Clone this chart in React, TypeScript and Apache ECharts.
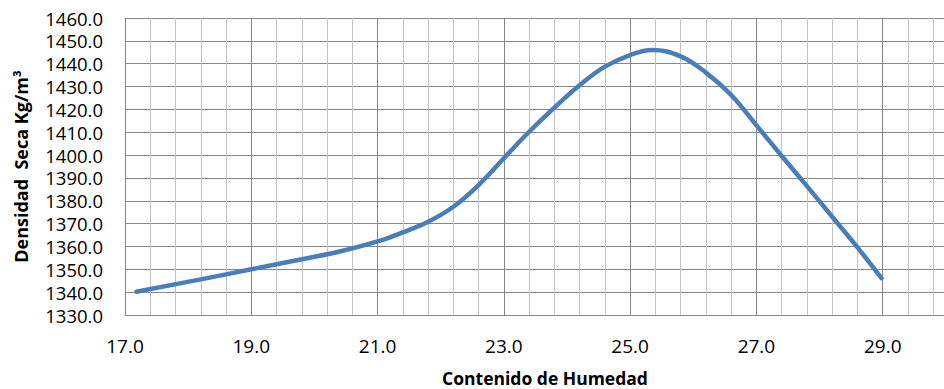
import React, { useEffect, useRef } from "react";
import * as echarts from "echarts";

// Contenido de Humedad (%)
const humedad = [17.18, 18.2, 19.0, 19.8, 20.4, 21.0, 21.4, 21.8, 22.2, 22.6, 23.0, 23.4, 23.8, 24.2, 24.6, 25.0, 25.35, 25.8, 26.2, 26.6, 27.0, 27.4, 27.8, 28.2, 28.6, 28.98];
// Densidad Seca (Kg/m3)
const densidad = [1340.2, 1345.6, 1350.0, 1354.4, 1357.8, 1362.2, 1366.2, 1370.8, 1377.4, 1386.9, 1398.6, 1410.2, 1420.8, 1430.6, 1438.7, 1443.8, 1446.0, 1443.2, 1436.1, 1426.3, 1413.0, 1399.6, 1386.4, 1373.0, 1359.6, 1346.1];

const xTitle = "Contenido de Humedad";
const yTitle = "Densidad  Seca Kg/m³";

const X_MIN = 17;
const X_MAX = 31;
const X_STEP = 2;
const Y_MIN = 1330;
const Y_MAX = 1460;
const Y_STEP = 10;

export default function App() {
  const ref = useRef<HTMLDivElement>(null);
  useEffect(() => {
    if (!ref.current) return;
    const chart = echarts.init(ref.current, null, { renderer: "svg" });
    const font = "'Open Sans', 'Noto Sans', sans-serif";
    const major = "#878787";
    const minor = "#c3c3c3";
    chart.setOption({
      animation: false,
      backgroundColor: "#ffffff",
      grid: { left: 125, top: 18, bottom: 74, right: 0, containLabel: false },
      xAxis: {
        type: "value",
        min: X_MIN,
        max: X_MAX,
        interval: X_STEP,
        axisLine: { show: true, lineStyle: { color: major, width: 1 } },
        axisTick: { show: false },
        minorTick: { show: false, splitNumber: 5 },
        minorSplitLine: { show: true, lineStyle: { color: minor, width: 1 } },
        splitLine: { show: true, lineStyle: { color: major, width: 1 } },
        axisLabel: {
          margin: 21,
          fontFamily: font,
          fontSize: 19,
          lineHeight: 20,
          color: "#000",
          formatter: (v: number) => (v > 30 ? "" : v.toFixed(1)),
        },
      },
      yAxis: {
        type: "value",
        min: Y_MIN,
        max: Y_MAX,
        interval: Y_STEP,
        name: yTitle,
        nameLocation: "middle",
        nameGap: 94,
        nameTextStyle: { fontFamily: font, fontSize: 18, lineHeight: 20, fontWeight: "bold", color: "#000" },
        axisLine: { show: true, lineStyle: { color: major, width: 1 } },
        axisTick: { show: false },
        splitLine: { show: true, lineStyle: { color: major, width: 1 } },
        axisLabel: {
          margin: 22,
          fontFamily: font,
          fontSize: 18.5,
          lineHeight: 20,
          color: "#000",
          formatter: (v: number) => v.toFixed(1),
        },
      },
      graphic: [
        {
          type: "text",
          x: 545,
          y: 378,
          style: {
            text: xTitle,
            fontFamily: font,
            fontSize: 17.5,
            lineHeight: 18,
            fontWeight: "bold",
            fill: "#000",
            align: "center",
            verticalAlign: "middle",
          },
        },
      ],
      series: [
        {
          type: "line",
          data: humedad.map((x, i) => [x, densidad[i]]),
          smooth: 0.4,
          showSymbol: false,
          lineStyle: { color: "#4a7ebb", width: 4.5, cap: "round" },
        },
      ],
    });
    return () => chart.dispose();
  }, []);
  return (
    <div
      ref={ref}
      style={{ position: "fixed", left: 0, top: 0, width: 1012, height: 389 }}
    />
  );
}
